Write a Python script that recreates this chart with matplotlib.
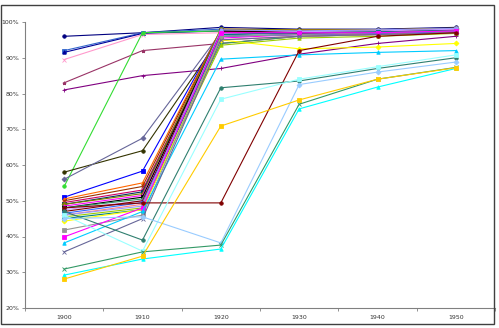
import numpy as np
import matplotlib
matplotlib.use('Agg')
import matplotlib.pyplot as plt
from matplotlib.patches import Rectangle

# decades on the x axis
years = ['1900', '1910', '1920', '1930', '1940', '1950']

# one row per series, percent values
series = [
    [96.0, 97.0, 98.5, 98.0, 98.0, 98.5],
    [92.0, 97.0, 98.0, 97.5, 97.5, 98.0],
    [91.5, 96.8, 97.5, 97.0, 97.0, 97.5],
    [89.5, 96.5, 97.0, 97.0, 97.2, 97.5],
    [83.0, 92.0, 94.0, 96.0, 96.5, 97.0],
    [81.0, 85.0, 87.0, 91.0, 94.0, 96.0],
    [54.0, 97.0, 97.5, 97.0, 97.0, 97.5],
    [58.0, 64.0, 96.0, 96.5, 96.8, 97.2],
    [56.0, 67.5, 97.0, 97.0, 97.5, 98.0],
    [51.0, 58.3, 97.5, 97.0, 97.0, 97.5],
    [50.5, 55.0, 98.0, 97.8, 97.8, 98.2],
    [50.0, 54.0, 97.8, 97.5, 97.5, 98.0],
    [49.5, 53.0, 97.0, 97.5, 97.5, 98.0],
    [49.0, 52.5, 96.5, 97.0, 97.2, 97.6],
    [49.0, 52.0, 98.0, 97.8, 97.8, 98.3],
    [48.5, 51.5, 95.5, 96.5, 96.8, 97.4],
    [48.0, 51.0, 97.5, 97.0, 97.0, 97.5],
    [48.0, 50.5, 94.0, 96.0, 96.5, 97.0],
    [47.5, 50.0, 96.8, 97.3, 97.5, 98.0],
    [47.0, 50.0, 97.2, 97.0, 97.0, 97.5],
    [46.5, 49.5, 96.0, 96.5, 96.8, 97.3],
    [46.0, 49.0, 95.0, 96.0, 96.5, 97.0],
    [46.0, 48.5, 97.8, 97.5, 97.8, 98.2],
    [45.5, 48.0, 93.5, 95.5, 96.0, 96.8],
    [45.0, 47.5, 96.5, 97.0, 97.2, 97.6],
    [44.3, 47.5, 95.0, 92.5, 93.0, 94.0],
    [41.8, 46.0, 96.0, 96.5, 97.0, 97.5],
    [39.9, 48.0, 97.0, 97.0, 97.0, 97.5],
    [38.2, 47.0, 89.6, 90.8, 91.5, 92.0],
    [35.7, 45.0, 95.0, 96.0, 96.5, 97.0],
    [48.0, 49.4, 49.4, 92.0, 96.0, 97.0],
    [47.0, 39.0, 81.6, 83.5, 87.0, 90.0],
    [46.0, 35.9, 78.4, 84.0, 87.5, 90.8],
    [45.0, 45.5, 38.2, 82.5, 86.0, 88.8],
    [30.9, 35.7, 37.6, 77.0, 84.0, 87.3],
    [29.2, 33.7, 36.5, 75.7, 81.8, 87.0],
    [28.1, 34.5, 70.9, 78.2, 84.0, 87.2],
]

colors = ['#000080', '#3366CC', '#000099', '#FF99CC', '#993366', '#800080',
          '#33DD33', '#333300', '#666699', '#0000FF', '#FF6600', '#993300',
          '#CC0066', '#003366', '#808000', '#FF00FF', '#000000', '#339966',
          '#CC99FF', '#800000', '#3366FF', '#FF8080', '#9999FF', '#99CC00',
          '#008080', '#FFFF00', '#969696', '#FF00FF', '#00CCFF', '#666699',
          '#800000', '#2F7F6F', '#99FFFF', '#99CCFF', '#339966', '#00FFFF',
          '#FFCC00']
markers = ['o', 's', '^', 'x', '*', '+', 'o', 'o', 'D', 's', '^', 'x',
           'o', 's', 'D', '^', 's', 'o', 'x', '*', 's', 'D', 'o', '^',
           's', 'D', 's', 's', '^', 'x', 'o', 'o', 's', 'D', 'x', '^', 's']

fig = plt.figure(figsize=(4.99, 3.28), dpi=100)
ax = fig.add_axes([25/499, 20/328, 470/499, 286/328])

x = np.arange(len(years))
for vals, c, m in zip(series, colors, markers):
    ax.plot(x, vals, color=c, lw=0.8, marker=m, ms=2.5, mew=0.6,
            markerfacecolor=c, markeredgecolor=c)

ax.set_xlim(-0.5, len(years) - 0.5)
ax.set_ylim(20, 100)
ax.set_yticks(np.arange(20, 101, 10))
ax.set_yticklabels(['%d%%' % v for v in range(20, 101, 10)], fontsize=4.5, color='#333333')
ax.set_xticks(x)
ax.set_xticklabels(years, fontsize=4.5, color='#333333')
ax.set_xticks(np.arange(-0.5, len(years), 1.0), minor=True)
ax.tick_params(axis='x', which='major', length=0, pad=5)
ax.tick_params(axis='x', which='minor', length=2, color='#808080', width=0.6)
ax.tick_params(axis='y', length=2, color='#808080', width=0.6, pad=2)
for s in ['top', 'right']:
    ax.spines[s].set_visible(False)
for s in ['left', 'bottom']:
    ax.spines[s].set_color('#808080')
    ax.spines[s].set_linewidth(0.8)

# chart area border
fig.patches.append(Rectangle((1/499, 4/328), 493/499, 319/328, transform=fig.transFigure,
                             fill=False, edgecolor='#404040', lw=1.0))

fig.savefig('out.png', dpi=100)
